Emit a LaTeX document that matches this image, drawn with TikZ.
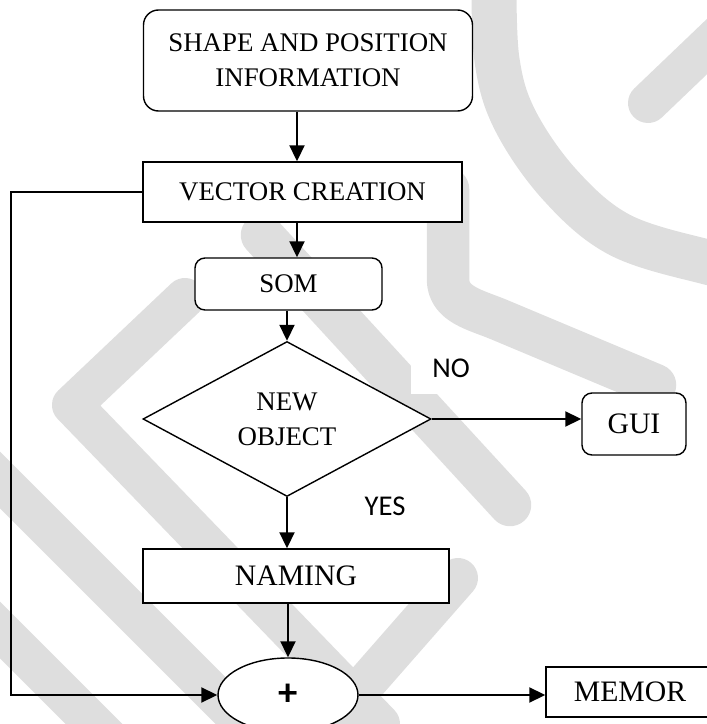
\documentclass[tikz,border=0pt]{standalone}
\usepackage{fontspec}
\setmainfont{Liberation Serif}
\newfontfamily\labelfont{Carlito}
\usetikzlibrary{shapes.geometric, arrows.meta}

\begin{document}
\begin{tikzpicture}[>={Triangle[length=0.32cm, width=0.3cm]},
  box/.style={draw, line width=0.8pt, fill=white, inner sep=0pt, align=center,
    font=\fontsize{15.3}{19.8}\selectfont},
  bigbox/.style={box, font=\fontsize{16.9}{19.8}\selectfont},
  roundbox/.style={box, rounded corners=0.3cm},
  flow/.style={->, line width=1.1pt},
  answer/.style={font=\labelfont\fontsize{16.3}{18}\selectfont},
  wmark/.style={black!13, line width=0.85cm, line cap=round, line join=round}]
  \useasboundingbox (0,0) rectangle (14.14,14.48);

  % Watermark
  \begin{scope}
    \clip (0,0) rectangle (14.14,14.48);
    \draw[wmark, line width=0.9cm] plot[smooth, tension=0.6] coordinates {
      (9.88,14.9) (9.94,13.28) (10.3,12.08) (11.2,10.78) (12.4,9.78) (14.14,9.24) (14.9,9.12)};
    \draw[wmark, line width=0.8cm] (12.96,12.42) -- (14.8,14.18);
    \draw[wmark] (8.96,10.7) -- (8.96,8.9) to[out=-90, in=157] (10.0,8.08) -- (13.1,6.78);
    \draw[wmark] (5.24,9.78) -- (10.2,4.38);
    \draw[wmark, line width=0.8cm] (3.7,8.52) -- (1.44,6.38) -- (7.6,0.0);
    \draw[wmark, line width=0.8cm] (9.16,2.92) -- (6.6,0.0);
    \draw[wmark, line width=0.8cm] (-0.5,5.38) -- (5.5,-0.62);
    \draw[wmark, line width=0.8cm] (-0.5,2.38) -- (2.5,-0.62);
  \end{scope}

  % Blocks
  \node[roundbox, minimum width=6.58cm, minimum height=2.02cm] (info) at (6.16,13.27)
    {SHAPE AND POSITION\\INFORMATION};
  \node[box, minimum width=6.38cm, minimum height=1.2cm] (vec) at (6.05,10.64) {VECTOR CREATION};
  \node[roundbox, rounded corners=0.2cm, minimum width=3.74cm, minimum height=1.04cm] (som) at (5.77,8.8) {SOM};
  \node[box, diamond, minimum width=5.76cm, minimum height=3.1cm] (dec) at (5.74,6.1) {NEW\\OBJECT};
  \node[roundbox, bigbox, rounded corners=0.2cm, minimum width=2.08cm, minimum height=1.24cm] (gui) at (12.68,6.0) {GUI};
  \node[bigbox, minimum width=6.12cm, minimum height=1.08cm] (name) at (5.92,2.96) {NAMING};
  \node[box, ellipse, minimum width=2.8cm, minimum height=1.48cm,
    font=\labelfont\bfseries\fontsize{22}{22}\selectfont] (plus) at (5.76,0.58) {+};
  \node[bigbox, minimum width=3.36cm, minimum height=1.0cm] (mem) at (12.6,0.64) {MEMOR};

  % Branch labels
  \node[answer, fill=white, minimum width=1.6cm, minimum height=1.06cm] (no) at (9.02,7.12) {NO};
  \node[answer] (yes) at (7.7,4.36) {YES};

  % Connectors
  \coordinate (spine) at (5.94,0);
  \coordinate (edge) at (0.22,0);
  \coordinate (loop) at (plus.west -| edge);
  \draw[flow] (info.south -| spine) -- (vec.north -| spine);
  \draw[flow] (vec.south -| spine) -- (som.north -| spine);
  \draw[flow] (som.south -| dec.north) -- (dec.north);
  \draw[flow] (dec.east) -- (dec.east -| gui.west);
  \draw[flow] (dec.south) -- (name.north -| dec.south);
  \draw[flow] (name.south -| plus.north) -- (plus.north);
  \draw[flow] (vec.west) -| (loop) -- (plus.west);
  \draw[flow] (plus.east) -- (plus.east -| mem.west);
\end{tikzpicture}
\end{document}
